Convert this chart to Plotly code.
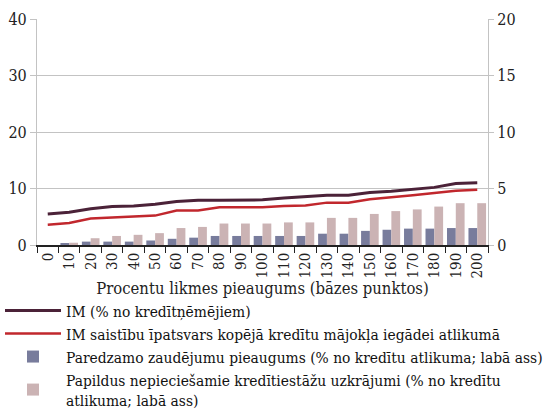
import plotly.graph_objects as go

# Interest rate increase, basis points
rate_rise = [str(v) for v in range(0, 201, 10)]

# Left axis: % of borrowers / share of liabilities
im_borrowers = [5.5, 5.8, 6.4, 6.8, 6.9, 7.2, 7.7, 7.9, 7.9, 7.9, 8.0,
                8.3, 8.6, 8.8, 8.8, 9.3, 9.5, 9.9, 10.2, 10.9, 11.0]
im_liab_share = [3.6, 3.9, 4.7, 4.9, 5.0, 5.2, 6.1, 6.1, 6.7, 6.7, 6.7,
                 6.9, 7.0, 7.5, 7.5, 8.1, 8.4, 8.8, 9.2, 9.6, 9.8]

# Right axis: % of loan stock
loss_increase = [0.0, 0.1, 0.3, 0.3, 0.3, 0.4, 0.55, 0.65, 0.8, 0.8, 0.8,
                 0.8, 0.8, 1.0, 1.0, 1.25, 1.35, 1.45, 1.45, 1.5, 1.5]
extra_provisions = [0.0, 0.2, 0.6, 0.8, 0.9, 1.05, 1.5, 1.6, 1.9, 1.9, 1.9,
                    2.0, 2.0, 2.4, 2.4, 2.75, 3.0, 3.15, 3.4, 3.7, 3.7]

left_ticks = [0, 10, 20, 30, 40]
right_ticks = [0, 5, 10, 15, 20]

FONT = "DejaVu Serif Condensed, DejaVu Serif"
GRID = "#c3c3c3"

fig = go.Figure()

fig.add_trace(go.Scatter(
    x=rate_rise, y=im_borrowers, yaxis="y2", mode="lines",
    name="IM (% no kredītņēmējiem)",
    line=dict(color="#4b2238", width=3)))
fig.add_trace(go.Scatter(
    x=rate_rise, y=im_liab_share, yaxis="y2", mode="lines",
    name="IM saistību īpatsvars kopējā kredītu mājokļa iegādei atlikumā",
    line=dict(color="#c1272d", width=2.5)))
fig.add_trace(go.Bar(
    x=rate_rise, y=loss_increase, yaxis="y",
    name="Paredzamo zaudējumu pieaugums (% no kredītu atlikuma; labā ass)",
    marker=dict(color="#787c9c", line=dict(width=0))))
fig.add_trace(go.Bar(
    x=rate_rise, y=extra_provisions, yaxis="y",
    name="Papildus nepieciešamie kredītiestāžu uzkrājumi (% no kredītu<br>atlikuma; labā ass)",
    marker=dict(color="#cbb3b4", line=dict(width=0))))

fig.update_layout(
    width=546, height=410,
    margin=dict(l=37, r=58, t=19, b=165, autoexpand=False),
    paper_bgcolor="white", plot_bgcolor="white",
    font=dict(family=FONT, size=16, color="#222222"),
    barmode="group", bargap=0.18, bargroupgap=0,
    showlegend=True,
    legend=dict(
        x=0, y=1 - 294 / 410, xanchor="left", yanchor="top",
        xref="container", yref="container",
        traceorder="normal", orientation="v",
        font=dict(family=FONT, size=15.4, color="#111111"),
        itemwidth=56, tracegroupgap=0,
        bgcolor="rgba(0,0,0,0)"),
    xaxis=dict(
        type="category", tickangle=-90, automargin=False,
        showline=True, linecolor="#222222", linewidth=1.5,
        ticks="outside", tickson="boundaries", ticklen=6, tickcolor="#222222",
        showgrid=False, tickfont=dict(family=FONT, size=15),
        title=dict(text="Procentu likmes pieaugums (bāzes punktos)",
                   font=dict(family=FONT, size=16.5), standoff=2)),
    yaxis=dict(
        side="right", range=[0, 20], tickvals=right_ticks, automargin=False,
        showgrid=True, gridcolor=GRID, gridwidth=1.2,
        showline=True, linecolor=GRID, linewidth=1.2,
        ticks="outside", ticklen=5, tickcolor=GRID,
        zeroline=False, tickfont=dict(family=FONT, size=16)),
    yaxis2=dict(
        side="left", overlaying="y", range=[0, 40], tickvals=left_ticks,
        automargin=False, showgrid=False,
        showline=True, linecolor=GRID, linewidth=1.2,
        ticks="outside", ticklen=6, tickcolor=GRID,
        zeroline=False, tickfont=dict(family=FONT, size=16)),
)

fig.write_html("out.html")
